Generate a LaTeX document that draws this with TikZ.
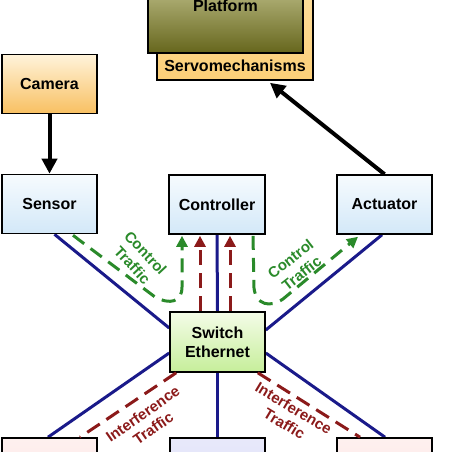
\documentclass[tikz,border=0pt]{standalone}
\usepackage{fontspec}
\setmainfont{Liberation Sans}
\usetikzlibrary{calc,arrows.meta}
\pgfdeclarelayer{bg}
\pgfsetlayers{bg,main}
\definecolor{navyline}{HTML}{1A1A8A}
\definecolor{dred}{HTML}{8B1A1A}
\definecolor{dgreen}{HTML}{2A8A2A}
\definecolor{bluetop}{HTML}{F6FBFE}
\definecolor{bluebot}{HTML}{D3E8F8}
\definecolor{camtop}{HTML}{FFF3DA}
\definecolor{cambot}{HTML}{F8C062}
\definecolor{swtop}{HTML}{F4FCE8}
\definecolor{swbot}{HTML}{C6EE9A}
\definecolor{servotop}{HTML}{FDE0A0}
\definecolor{servobot}{HTML}{FCCF78}
\definecolor{plattop}{HTML}{D8D8A8}
\definecolor{platbot}{HTML}{66661C}
\definecolor{pinkfill}{HTML}{FDE6E4}
\definecolor{lavfill}{HTML}{DEDFF8}
\tikzset{
  box/.style={draw=black, line width=1.6pt, minimum width=95pt, minimum height=59pt,
    inner sep=0pt, font=\fontsize{16}{19}\selectfont\bfseries, align=center},
  bluebox/.style={box, top color=bluetop, bottom color=bluebot},
  camerabox/.style={box, top color=camtop, bottom color=cambot},
  switchbox/.style={box, top color=swtop, bottom color=swbot},
  pinkbox/.style={box, top color=pinkfill!60!white, bottom color=pinkfill},
  lavbox/.style={box, top color=lavfill!70!white, bottom color=lavfill},
  plaintext/.style={inner sep=0pt, font=\fontsize{16}{19}\selectfont\bfseries},
  link/.style={navyline, line width=3pt},
  redflow/.style={dred, line width=3pt, dash pattern=on 15pt off 8pt},
  greenflow/.style={dgreen, line width=3pt, dash pattern=on 14pt off 8pt},
  flowtip/.style={-{Triangle[length=11pt,width=11pt]}},
  bigarrow/.style={line width=4pt, -{Triangle[length=15pt,width=15pt]}},
  greenlabel/.style={dgreen, font=\fontsize{15}{18}\selectfont\bfseries, align=center, inner sep=0pt},
  redlabel/.style={dred, font=\fontsize{15}{18}\selectfont\bfseries, align=center, inner sep=0pt},
}
\begin{document}
\begin{tikzpicture}[x=1pt,y=-1pt]
\useasboundingbox (0,0) rectangle (452,452);
\clip (0,0) rectangle (452,452);
% top boxes
\node[box, minimum width=156pt, minimum height=100pt, top color=servotop, bottom color=servobot] (servo) at (235,30) {};
\node[plaintext] (servotext) at (235,66) {Servomechanisms};
\node[box, minimum width=155pt, minimum height=93pt, top color=plattop, bottom color=platbot] (platform) at (225.5,6.5) {};
\node[plaintext] (platformtext) at (225.5,6) {Platform};
% main boxes
\node[camerabox] (camera) at (49.5,84) {Camera};
\node[bluebox] (sensor) at (49.5,204) {Sensor};
\node[bluebox, minimum width=96pt] (controller) at (217,204.5) {Controller};
\node[bluebox] (actuator) at (384.5,204.5) {Actuator};
\node[switchbox, minimum height=60pt] (switch) at (217.5,342) {Switch\\Ethernet};
\node[pinkbox, minimum height=62pt] (bl) at (49.5,469) {};
\node[lavbox, minimum height=62pt] (bm) at (217.5,469) {};
\node[pinkbox, minimum height=62pt] (br) at (384.5,469) {};
\begin{pgfonlayer}{bg}
% network links
\draw[link] ($(sensor.south)+(5,0)$) -- ($(switch.west)+(0,-14)$);
\draw[link] (controller.south) -- (switch.north);
\draw[link] ($(actuator.south)+(-2.5,0)$) -- ($(switch.east)+(0,-12)$);
\draw[link] ($(switch.west)+(0,11)$) -- ($(bl.north)+(-1.5,0)$);
\draw[link] (switch.south) -- (bm.north);
\draw[link] ($(switch.east)+(0,11)$) -- ($(br.north)+(0.5,0)$);
\end{pgfonlayer}
% big arrows
\draw[bigarrow] (camera.south) -- (sensor.north);
\draw[bigarrow] (actuator.north) -- ($(servo.south)+(35,2)$);
% interference traffic
\draw[redflow, flowtip] ($(switch.north)+(-17.5,0)$) -- ($(controller.south)+(-17,1)$);
\draw[redflow, flowtip] ($(switch.north)+(12.5,0)$) -- ($(controller.south)+(13,1)$);
\draw[redflow] ($(switch.south west)+(7,0)$) -- ($(bl.north)+(30.5,0)$);
\draw[redflow] ($(switch.south east)+(-8,0)$) -- ($(br.north)+(-24.5,0)$);
% control traffic
\draw[greenflow, flowtip] ($(sensor.south)+(23.5,1)$) -- (155,297) .. controls (170,305) and (182,302) .. (182,287) -- ($(controller.south)+(-35,1)$);
\draw[greenflow, flowtip] ($(controller.south)+(36,1)$) -- (254,288) .. controls (256,305) and (270,308) .. (283,299) -- ($(actuator.south)+(-26.5,2)$);
% labels
\node[greenlabel, rotate=-47] (ctl) at (139,259) {Control\\Traffic};
\node[greenlabel, rotate=38] (ctr) at (296,266) {Control\\Traffic};
\node[redlabel, rotate=35] (itl) at (148,421) {Interference\\Traffic};
\node[redlabel, rotate=-31] (itr) at (289,416) {Interference\\Traffic};
\end{tikzpicture}
\end{document}
